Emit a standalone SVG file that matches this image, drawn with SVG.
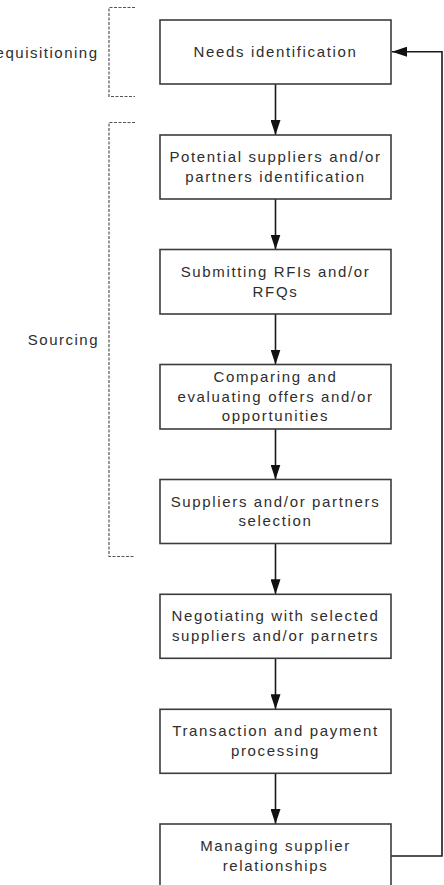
<svg xmlns="http://www.w3.org/2000/svg" width="444" height="885" viewBox="0 0 444 885">
<defs>
<marker id="ah" viewBox="0 0 15 10" refX="15" refY="5" markerWidth="15" markerHeight="10" markerUnits="userSpaceOnUse" orient="auto">
<path d="M0,0 L15,5 L0,10 Z" fill="#111"/>
</marker>
</defs>
<style>
.box{fill:#fff;stroke:#3c3c3c;stroke-width:1.6}
.t{font-family:"Liberation Sans",Arial,sans-serif;font-size:15px;letter-spacing:1.65px;fill:#2e2e2e;text-anchor:middle}
.lbl{font-family:"Liberation Sans",Arial,sans-serif;font-size:15px;letter-spacing:1.5px;fill:#2e2e2e;text-anchor:end}
.c{fill:none;stroke:#1a1a1a;stroke-width:1.6}
.br{fill:none;stroke:#555;stroke-width:1.2;stroke-dasharray:3,1.5}
</style>
<rect width="444" height="885" fill="#fff"/>
<g id="brackets">
<path class="br" d="M135,7.5 H109 V96.5 H135"/>
<path class="br" d="M135,122.5 H109 V556.5 H135"/>
<text class="lbl" x="98.5" y="58">Requisitioning</text>
<text class="lbl" x="99" y="345">Sourcing</text>
</g>
<g id="connectors">
<line class="c" x1="275.5" y1="84" x2="275.5" y2="135" marker-end="url(#ah)"/>
<line class="c" x1="275.5" y1="199" x2="275.5" y2="249.5" marker-end="url(#ah)"/>
<line class="c" x1="275.5" y1="314" x2="275.5" y2="364.5" marker-end="url(#ah)"/>
<line class="c" x1="275.5" y1="429" x2="275.5" y2="479.5" marker-end="url(#ah)"/>
<line class="c" x1="275.5" y1="543.5" x2="275.5" y2="594.3" marker-end="url(#ah)"/>
<line class="c" x1="275.5" y1="658.3" x2="275.5" y2="709.3" marker-end="url(#ah)"/>
<line class="c" x1="275.5" y1="773.3" x2="275.5" y2="824" marker-end="url(#ah)"/>
<path class="c" d="M391,856 H442 V51.7 H392" marker-end="url(#ah)"/>
</g>
<g id="n1"><rect class="box" x="160" y="20" width="231" height="64"/><text class="t" x="275.5" y="57">Needs identification</text></g>
<g id="n2"><rect class="box" x="160" y="135" width="231" height="64"/><text class="t" x="275.5" y="162">Potential suppliers and/or</text><text class="t" x="275.5" y="181.5">partners identification</text></g>
<g id="n3"><rect class="box" x="160" y="249.5" width="231" height="64.5"/><text class="t" x="275.5" y="277">Submitting RFIs and/or</text><text class="t" x="275.5" y="296.5">RFQs</text></g>
<g id="n4"><rect class="box" x="160" y="364.5" width="231" height="64.5"/><text class="t" x="275.5" y="382.3">Comparing and</text><text class="t" x="275.5" y="401.8">evaluating offers and/or</text><text class="t" x="275.5" y="421.3">opportunities</text></g>
<g id="n5"><rect class="box" x="160" y="479.5" width="231" height="64"/><text class="t" x="275.5" y="506.5">Suppliers and/or partners</text><text class="t" x="275.5" y="526">selection</text></g>
<g id="n6"><rect class="box" x="160" y="594.3" width="231" height="64"/><text class="t" x="275.5" y="621">Negotiating with selected</text><text class="t" x="275.5" y="640.5">suppliers and/or parnetrs</text></g>
<g id="n7"><rect class="box" x="160" y="709.3" width="231" height="64"/><text class="t" x="275.5" y="736">Transaction and payment</text><text class="t" x="275.5" y="755.5">processing</text></g>
<g id="n8"><rect class="box" x="160" y="824" width="231" height="64"/><text class="t" x="275.5" y="851">Managing supplier</text><text class="t" x="275.5" y="870.5">relationships</text></g>
</svg>
